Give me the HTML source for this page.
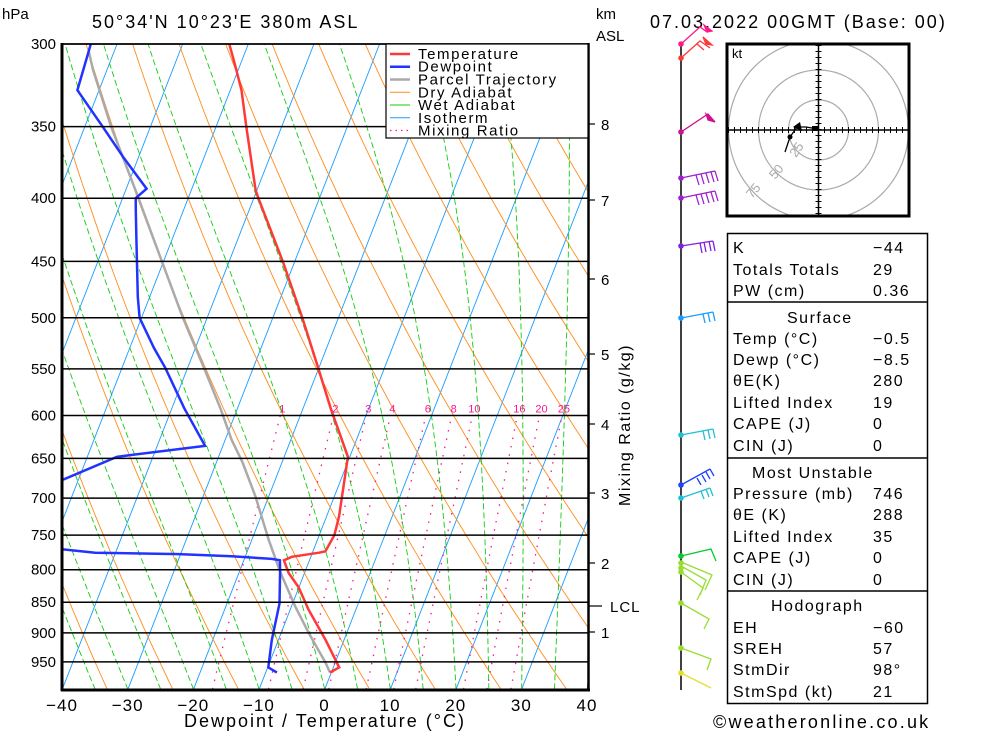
<!DOCTYPE html>
<html><head><meta charset="utf-8"><style>
html,body{margin:0;padding:0;background:#fff;}
svg{display:block;font-family:"Liberation Sans",sans-serif;}
.t{font-size:16px;letter-spacing:1.5px;fill:#000;}
</style></head><body>
<svg id="chart" width="1000" height="733" viewBox="0 0 1000 733" xmlns="http://www.w3.org/2000/svg">
<defs><clipPath id="plotclip"><rect x="62" y="44" width="526" height="646"/></clipPath>
<clipPath id="hodoclip"><rect x="727" y="44" width="182" height="172"/></clipPath></defs>
<g id="bg" clip-path="url(#plotclip)"></g>
<g id="prof" clip-path="url(#plotclip)"></g>
<g id="axes"></g>
</svg>
<script>
// ---- data ----
const pressureLevels=[300,350,400,450,500,550,600,650,700,750,800,850,900,950];
const tempTicks=[-40,-30,-20,-10,0,10,20,30,40];
const tempP=[300,313,327,350,394,400,451,500,551,592,648,724,750,773,775,781,786,805,826,862,912,960,969];
const tempT=[-52.9,-50.6,-48.3,-45.4,-40.2,-39.3,-31.7,-25.5,-19.9,-15.8,-10.3,-8.1,-7.7,-8.1,-9.0,-12.9,-13.9,-12.4,-10.1,-7.2,-2.8,0.9,-0.2];
const dewP=[300,327,350,371,393,400,410,435,481,500,529,549,592,635,648,677,720,770,775,777,780,784,786,803,852,912,960,969];
const dewT=[-74,-73.3,-67.3,-62.2,-56.9,-58,-57.2,-55.2,-51.8,-50.3,-46.3,-43.4,-38.1,-32.7,-45.5,-52.5,-70,-48.4,-43.1,-30.3,-22.1,-15.8,-14.5,-13.8,-12,-11,-9.9,-8.3];
const parcelP=[969,951,900,857,803,757,698,655,628,592,549,500,449,396,350,315,304];
const parcelT=[-0.2,-1.5,-5.8,-9.4,-13.8,-17.4,-22,-26,-29,-32.6,-37.5,-43.7,-50.4,-58.2,-66,-72.1,-73.9];
const mixRatios=[1,2,3,4,6,8,10,16,20,25];
const kmLabels=["1","2","3","4","5","6","7","8"];
const kmY=[632,563,493,424,354,279,200,124];
const tableRows=[["K","−44",247],["Totals Totals","29",269],["PW (cm)","0.36",290],
["Temp (°C)","−0.5",338],["Dewp (°C)","−8.5",359],["θE(K)","280",380],["Lifted Index","19",402],["CAPE (J)","0",423],["CIN (J)","0",445],
["Pressure (mb)","746",493],["θE (K)","288",514],["Lifted Index","35",536],["CAPE (J)","0",557],["CIN (J)","0",579],
["EH","−60",627],["SREH","57",648],["StmDir","98°",669],["StmSpd (kt)","21",691]];

const NS="http://www.w3.org/2000/svg";
const X0=62,XS=6.5625,SK=0.39,YB=690;
function yP(p){return 44+536*Math.log(p/300);}
function xT(t,p){return X0+(t+40)*XS+SK*(YB-yP(p));}
function mk(tag,parent,attrs){const e=document.createElementNS(NS,tag);for(const k in attrs)e.setAttribute(k,attrs[k]);parent.appendChild(e);return e;}
function pts(P,T){return P.map((p,i)=>xT(T[i],p).toFixed(1)+","+yP(p).toFixed(1)).join(" ");}
const bg=document.getElementById('bg'),prof=document.getElementById('prof'),ax=document.getElementById('axes');

// isotherms
for(let t=-130;t<=40;t+=10){
 const l=mk('line',bg,{x1:xT(t,1000),y1:yP(1000),x2:xT(t,300),y2:yP(300),stroke:'#1a9cff','stroke-width':0.9});
 
 
}
// dry adiabats
for(let th=200;th<=480;th+=10){
 const P=[],T=[];for(let p=1000;p>=300;p-=10){P.push(p);T.push(th*Math.pow(p/1000,0.286)-273.15);}
 const l=mk('polyline',bg,{points:pts(P,T),fill:'none',stroke:'#ff8c1a','stroke-width':0.9});
 
 
}
// wet adiabats
function es(tc){return 6.112*Math.exp(17.67*tc/(tc+243.5));}
for(let t0=-40;t0<=40;t0+=5){
 let T=t0+273.15;const P=[],TT=[];
 for(let p=1000;p>=300;p-=5){P.push(p);TT.push(T-273.15);
  const e=es(T-273.15),rs=0.622*e/(p-e);
  const dTdp=(1/p)*(287*T+2.5e6*rs)/(1004+2.5e6*2.5e6*rs*0.622/(287*T*T));
  T-=dTdp*5;}
 const l=mk('polyline',bg,{points:pts(P,TT),fill:'none',stroke:'#11cc11','stroke-width':0.9,'stroke-dasharray':'6,3'});
 
 
}
// mixing ratio
function tdFromW(w,p){const e=w*p/(622+w);const g=Math.log(e/6.112);return 243.5*g/(17.67-g);}
mixRatios.forEach(w=>{
 const P=[],T=[];for(let p=1000;p>=600;p-=10){P.push(p);T.push(tdFromW(w,p));}
 const l=mk('polyline',bg,{points:pts(P,T),fill:'none',stroke:'#ff1493','stroke-width':1.3,'stroke-dasharray':'1.5,7'});
 
 
 const tx=mk('text',ax,{x:xT(tdFromW(w,600),600)+2,y:yP(600)-3,'font-size':11,fill:'#ff1493','text-anchor':'middle'});
 tx.textContent=w;
 
 
});
// pressure lines
pressureLevels.forEach(p=>{
 const l=mk('line',ax,{x1:62,x2:588,y1:yP(p),y2:yP(p),stroke:'#000','stroke-width':1.5});
 
 
 const tx=mk('text',ax,{x:56,y:yP(p)+5,'font-size':15,'text-anchor':'end'});
 tx.textContent=p;
 
 
});
// profiles
let l=mk('polyline',prof,{points:pts(parcelP,parcelT),fill:'none',stroke:'#aaaaaa','stroke-width':2.5});


l=mk('polyline',prof,{points:pts(dewP,dewT),fill:'none',stroke:'#2233ff','stroke-width':2.5});


l=mk('polyline',prof,{points:pts(tempP,tempT),fill:'none',stroke:'#ff3838','stroke-width':2.5});


// frame
mk('line',ax,{x1:62,y1:43,x2:62,y2:691,stroke:'#000','stroke-width':3});
mk('line',ax,{x1:61,y1:690,x2:590,y2:690,stroke:'#000','stroke-width':3});
mk('line',ax,{x1:588.5,y1:43,x2:588.5,y2:691,stroke:'#000','stroke-width':2.5});
mk('line',ax,{x1:62,y1:44,x2:588,y2:44,stroke:'#000','stroke-width':1.5});
// x ticks
tempTicks.forEach(t=>{
 const tx=mk('text',ax,{x:X0+(t+40)*XS,y:711,'font-size':17,'text-anchor':'middle','letter-spacing':'1'});
 tx.textContent=(t<0?'−':'')+Math.abs(t);
 
 
});
// km axis
kmLabels.forEach((k,i)=>{
 mk('line',ax,{x1:588,x2:595,y1:kmY[i],y2:kmY[i],stroke:'#000','stroke-width':1.2});
 const tx=mk('text',ax,{x:601,y:kmY[i]+6,'font-size':15});
 tx.textContent=k;
 
 
});
mk('line',ax,{x1:588,x2:602,y1:606,y2:606,stroke:'#000','stroke-width':1.2});
// table
tableRows.forEach(r=>{
 const a=mk('text',document.getElementById('chart'),{x:733,y:r[2]+6,class:'t'});a.textContent=r[0];
 
 
 const b=mk('text',document.getElementById('chart'),{x:873,y:r[2]+6,class:'t'});b.textContent=r[1];
 
 
});
</script>
<script>
(function(){
const svg=document.getElementById('chart');
function add(html){svg.insertAdjacentHTML('beforeend',html);}
add(`<text x="2" y="19" font-size="15">hPa</text>
<text x="92" y="28" font-size="18" letter-spacing="2">50°34'N  10°23'E  380m  ASL</text>
<text x="596" y="19" font-size="15">km</text>
<text x="596" y="41" font-size="15">ASL</text>
<text x="650" y="28" font-size="18" letter-spacing="2">07.03.2022  00GMT  (Base: 00)</text>
<text x="610" y="612" font-size="15" letter-spacing="1">LCL</text>
<text transform="translate(630,425) rotate(-90)" font-size="16" text-anchor="middle" letter-spacing="1.5">Mixing Ratio (g/kg)</text>
<text x="325" y="727" font-size="18" text-anchor="middle" letter-spacing="2">Dewpoint / Temperature (°C)</text>
<text x="713" y="728" font-size="18" letter-spacing="2.2">©weatheronline.co.uk</text>
<g>
<rect x="386" y="44" width="202" height="94" fill="#fff" stroke="#000" stroke-width="1.2"/>
<g font-size="15" letter-spacing="1.6">
<line x1="390" x2="410" y1="54" y2="54" stroke="#ff3838" stroke-width="2.5"/><text x="418" y="59">Temperature</text>
<line x1="390" x2="410" y1="66.7" y2="66.7" stroke="#2233ff" stroke-width="2.5"/><text x="418" y="71.7">Dewpoint</text>
<line x1="390" x2="410" y1="79.5" y2="79.5" stroke="#aaa" stroke-width="2.5"/><text x="418" y="84.5">Parcel Trajectory</text>
<line x1="390" x2="410" y1="92.3" y2="92.3" stroke="#ff8c1a" stroke-width="1"/><text x="418" y="97.3">Dry Adiabat</text>
<line x1="390" x2="410" y1="105" y2="105" stroke="#11cc11" stroke-width="1"/><text x="418" y="110">Wet Adiabat</text>
<line x1="390" x2="410" y1="117.8" y2="117.8" stroke="#1a9cff" stroke-width="1"/><text x="418" y="122.8">Isotherm</text>
<line x1="390" x2="410" y1="130.5" y2="130.5" stroke="#ff1493" stroke-width="1.3" stroke-dasharray="1.5,4"/><text x="418" y="135.5">Mixing Ratio</text>
</g></g>
<g>
<g clip-path="url(#hodoclip)" fill="none" stroke="#aaa" stroke-width="1.2">
<circle cx="818.5" cy="130" r="30"/><circle cx="818.5" cy="130" r="60"/><circle cx="818.5" cy="130" r="90"/></g>
<rect x="727" y="44" width="182" height="172" fill="none" stroke="#000" stroke-width="3"/>
<line x1="728" x2="908" y1="130" y2="130" stroke="#000" stroke-width="1.5"/>
<line x1="818.5" x2="818.5" y1="45" y2="215" stroke="#000" stroke-width="1.5"/>
<line x1="728" x2="908" y1="130" y2="130" stroke="#000" stroke-width="6" stroke-dasharray="1,5"/>
<line x1="818.5" x2="818.5" y1="45" y2="215" stroke="#000" stroke-width="6" stroke-dasharray="1,5"/>
<text x="732" y="58" font-size="13">kt</text>
<text transform="translate(796,158) rotate(-55)" font-size="13" fill="#aaa">25</text>
<text transform="translate(775,180) rotate(-50)" font-size="13" fill="#aaa">50</text>
<text transform="translate(752,199) rotate(-50)" font-size="13" fill="#aaa">75</text>
<polyline points="818,129 806,127 797,127 790,137 785,152" fill="none" stroke="#000" stroke-width="1.3"/>
<polygon points="793,127 800,122 802,131" fill="#000"/><rect x="812" y="126" width="6" height="5" fill="#000"/><circle cx="790" cy="137" r="2.5" fill="#000"/>
</g>
<g fill="none" stroke="#000" stroke-width="1.5">
<rect x="727.5" y="233.5" width="200" height="470"/>
<line x1="727" x2="928" y1="302" y2="302"/><line x1="727" x2="928" y1="458" y2="458"/><line x1="727" x2="928" y1="591" y2="591"/>
</g>
<text x="787" y="323" class="t">Surface</text>
<text x="752" y="478" class="t">Most Unstable</text>
<text x="771" y="611" class="t">Hodograph</text>
<g fill="none" stroke-width="1.3">
<line x1="681" x2="681" y1="44" y2="690" stroke="#000" stroke-width="1.5"/>
<g stroke="#ff1a8c"><polyline points="681,44 700,27 707,32"/><polygon points="704,25 712,31 707,32" fill="#ff1a8c"/></g>
<g stroke="#ff3838"><polyline points="681,58 700,41 710,48"/><polygon points="703,37 712,45 706,44" fill="#ff3838"/><line x1="697" y1="44" x2="704" y2="50"/></g>
<g stroke="#d01090"><polyline points="681,132 708,114 715,122"/><polygon points="706,114 715,122 708,120" fill="#d01090"/></g>
<g stroke="#a020d0"><polyline points="681,178 715,171"/><path d="M696,175 l3,10 M701,174 l3,10 M706,173 l3,10 M711,172 l3,10 M715,171 l3,10"/></g>
<g stroke="#a020d0"><polyline points="681,198 715,191"/><path d="M696,195 l3,10 M701,194 l3,10 M706,193 l3,10 M711,192 l3,10 M715,191 l3,10"/></g>
<g stroke="#8020e0"><polyline points="681,246 713,241"/><path d="M700,243 l2,10 M704,242 l2,10 M709,241 l2,10 M713,241 l2,10"/></g>
<g stroke="#1a9cff"><polyline points="681,318 713,312"/><path d="M703,314 l2,9 M708,313 l2,9 M713,312 l2,9"/></g>
<g stroke="#20c0d0"><polyline points="681,435 713,429"/><path d="M703,431 l2,9 M708,430 l2,9 M713,429 l2,9"/></g>
<g stroke="#2040ff"><polyline points="681,485 710,469"/><path d="M697,478 l4,7 M702,475 l4,7 M706,472 l4,7 M710,469 l4,7"/></g>
<g stroke="#20c0d0"><polyline points="681,498 710,488"/><path d="M701,491 l3,8 M706,489 l3,8 M710,488 l3,8"/></g>
<g stroke="#00cc33"><polyline points="681,556 711,549 716,561"/></g>
<g stroke="#99dd33"><polyline points="681,562 712,575 705,590"/><polyline points="681,566 706,580 700,595"/><polyline points="681,572 703,588 697,600"/></g>
<g stroke="#99dd33"><polyline points="681,603 709,619 704,629"/></g>
<g stroke="#99dd33"><polyline points="681,648 711,659 707,670"/></g>
<g stroke="#e0e030"><polyline points="681,673 711,688"/></g>
<g stroke="none"><circle cx="681" cy="44" r="2.8" fill="#ff1a8c"/><circle cx="681" cy="58" r="2.8" fill="#ff3838"/><circle cx="681" cy="132" r="2.8" fill="#d01090"/><circle cx="681" cy="178" r="2.8" fill="#a020d0"/><circle cx="681" cy="198" r="2.8" fill="#a020d0"/><circle cx="681" cy="246" r="2.8" fill="#8020e0"/><circle cx="681" cy="318" r="2.8" fill="#1a9cff"/><circle cx="681" cy="435" r="2.8" fill="#20c0d0"/><circle cx="681" cy="485" r="2.8" fill="#2040ff"/><circle cx="681" cy="498" r="2.8" fill="#20c0d0"/><circle cx="681" cy="556" r="2.8" fill="#00cc33"/><circle cx="681" cy="563" r="2.8" fill="#99dd33"/><circle cx="681" cy="568" r="2.8" fill="#99dd33"/><circle cx="681" cy="572" r="2.8" fill="#99dd33"/><circle cx="681" cy="603" r="2.8" fill="#99dd33"/><circle cx="681" cy="648" r="2.8" fill="#99dd33"/><circle cx="681" cy="673" r="2.8" fill="#e0e030"/></g>
</g>`);
})();
</script>
</body></html>
